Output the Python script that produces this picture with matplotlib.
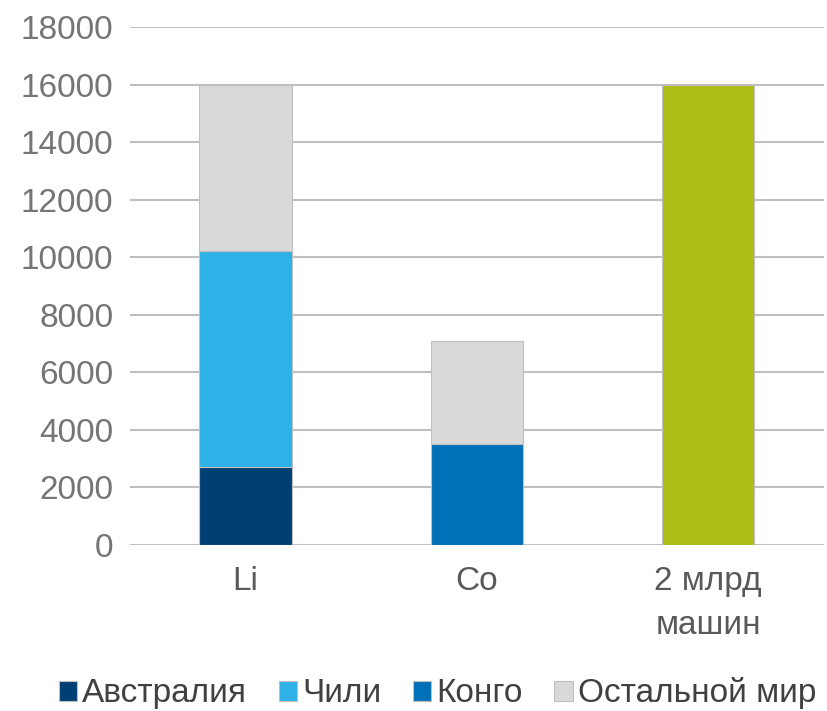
import matplotlib
matplotlib.use('Agg')
from matplotlib import pyplot as plt
import numpy as np

plt.rcParams['font.family'] = ['Liberation Sans', 'DejaVu Sans']

categories = ['Li', 'Co', '2 млрд\nмашин']
australia = [2700, 0, 0]
chile = [7500, 0, 0]
congo = [0, 3500, 0]
rest = [5800, 3600, 0]
cars = [0, 0, 16000]
series_names = ['Австралия', 'Чили', 'Конго', 'Остальной мир']

fig = plt.figure(figsize=(8.27, 7.11), dpi=100)
ax = fig.add_axes([0.157, 0.2335, 0.839, 0.7285])

x = np.arange(len(categories))
w = 0.4
edge = '#bfbfbf'

b0 = np.zeros(3)
h1 = ax.bar(x, australia, w, bottom=b0, color='#003f73', edgecolor=edge, linewidth=0.8, zorder=3)
b0 = b0 + australia
h2 = ax.bar(x, chile, w, bottom=b0, color='#2db1e7', edgecolor=edge, linewidth=0.8, zorder=3)
b0 = b0 + chile
h3 = ax.bar(x, congo, w, bottom=b0, color='#0070b9', edgecolor=edge, linewidth=0.8, zorder=3)
b0 = b0 + congo
h4 = ax.bar(x, rest, w, bottom=b0, color='#d9d9d9', edgecolor=edge, linewidth=0.8, zorder=3)
b0 = b0 + rest
ax.bar(x, cars, w, bottom=b0, color='#adbf17', edgecolor=edge, linewidth=0.8, zorder=3)

ax.set_xlim(-0.5, 2.5)
ax.set_ylim(0, 18000)
ax.set_yticks(np.arange(0, 18001, 2000))
ax.set_xticks(x)
ax.set_xticklabels(categories, fontsize=24, color='#595959', linespacing=1.55)
ax.tick_params(axis='y', labelsize=24, labelcolor='#757575', length=0, pad=12)
ax.tick_params(axis='x', length=0, pad=15)

ax.grid(axis='y', color='#bfbfbf', linewidth=1.5, zorder=0)
for s in ax.spines.values():
    s.set_visible(False)

fig.legend([h1, h2, h3, h4], series_names, loc='lower center', ncol=4,
           bbox_to_anchor=(0.529, -0.04), frameon=False, fontsize=24,
           handlelength=0.55, handleheight=0.55, handletextpad=0.15,
           columnspacing=0.95, labelcolor='#404040')

fig.savefig('out.png', dpi=100)
